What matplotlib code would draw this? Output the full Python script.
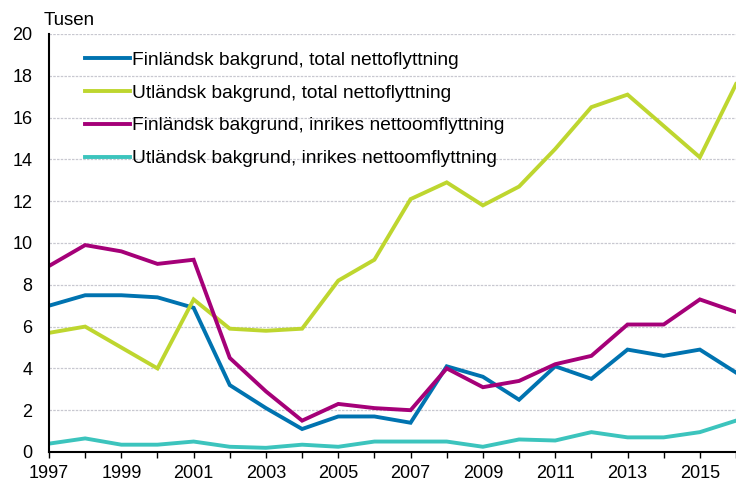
import matplotlib
matplotlib.use("Agg")
import matplotlib.pyplot as plt

years = list(range(1997, 2017))
fin_total = [7.0, 7.5, 7.5, 7.4, 6.9, 3.2, 2.1, 1.1, 1.7, 1.7, 1.4, 4.1, 3.6, 2.5, 4.1, 3.5, 4.9, 4.6, 4.9, 3.8]
utl_total = [5.7, 6.0, 5.0, 4.0, 7.3, 5.9, 5.8, 5.9, 8.2, 9.2, 12.1, 12.9, 11.8, 12.7, 14.5, 16.5, 17.1, 15.6, 14.1, 17.6]
fin_inrikes = [8.9, 9.9, 9.6, 9.0, 9.2, 4.5, 2.9, 1.5, 2.3, 2.1, 2.0, 4.0, 3.1, 3.4, 4.2, 4.6, 6.1, 6.1, 7.3, 6.7]
utl_inrikes = [0.4, 0.65, 0.35, 0.35, 0.5, 0.25, 0.2, 0.35, 0.25, 0.5, 0.5, 0.5, 0.25, 0.6, 0.55, 0.95, 0.7, 0.7, 0.95, 1.5]

labels = ["Finländsk bakgrund, total nettoflyttning",
          "Utländsk bakgrund, total nettoflyttning",
          "Finländsk bakgrund, inrikes nettoomflyttning",
          "Utländsk bakgrund, inrikes nettoomflyttning"]
colors = ["#0073B0", "#BED62F", "#A50078", "#3CC4BD"]
series = [fin_total, utl_total, fin_inrikes, utl_inrikes]

plt.rcParams['font.family'] = ['Liberation Sans', 'DejaVu Sans']
fig = plt.figure(figsize=(7.36, 4.83), dpi=100)
ax = fig.add_axes([49/736, 1 - 452/483, (736 - 49)/736, (452 - 34)/483])

for s, c, l in zip(series, colors, labels):
    ax.plot(years, s, color=c, lw=2.8, label=l, solid_joinstyle='miter')

ax.set_xlim(1997, 2016)
ax.set_ylim(0, 20)
ax.set_yticks(range(0, 21, 2))
ax.set_xticks(years)
ax.set_xticklabels([str(y) if (y - 1997) % 2 == 0 else "" for y in years])
ax.tick_params(axis='x', length=4, width=1, labelsize=13, pad=5)
ax.tick_params(axis='y', length=0, labelsize=13, pad=12)
for sp in ['top', 'right']:
    ax.spines[sp].set_visible(False)
ax.spines['left'].set_linewidth(1.5)
ax.spines['bottom'].set_linewidth(1.5)
ax.grid(axis='y', color='#c8c8d0', lw=0.9, ls=(0, (2, 1)))
ax.set_axisbelow(True)

ax.text(-5/687, 1.012, "Tusen", transform=ax.transAxes, fontsize=13.5, va='bottom', ha='left')

leg = ax.legend(loc='upper left', bbox_to_anchor=(0.052, 0.958), frameon=False,
                fontsize=13.8, handlelength=2.35, handletextpad=0.12, labelspacing=0.8,
                borderaxespad=0, borderpad=0)

fig.savefig("out.png", dpi=100)
